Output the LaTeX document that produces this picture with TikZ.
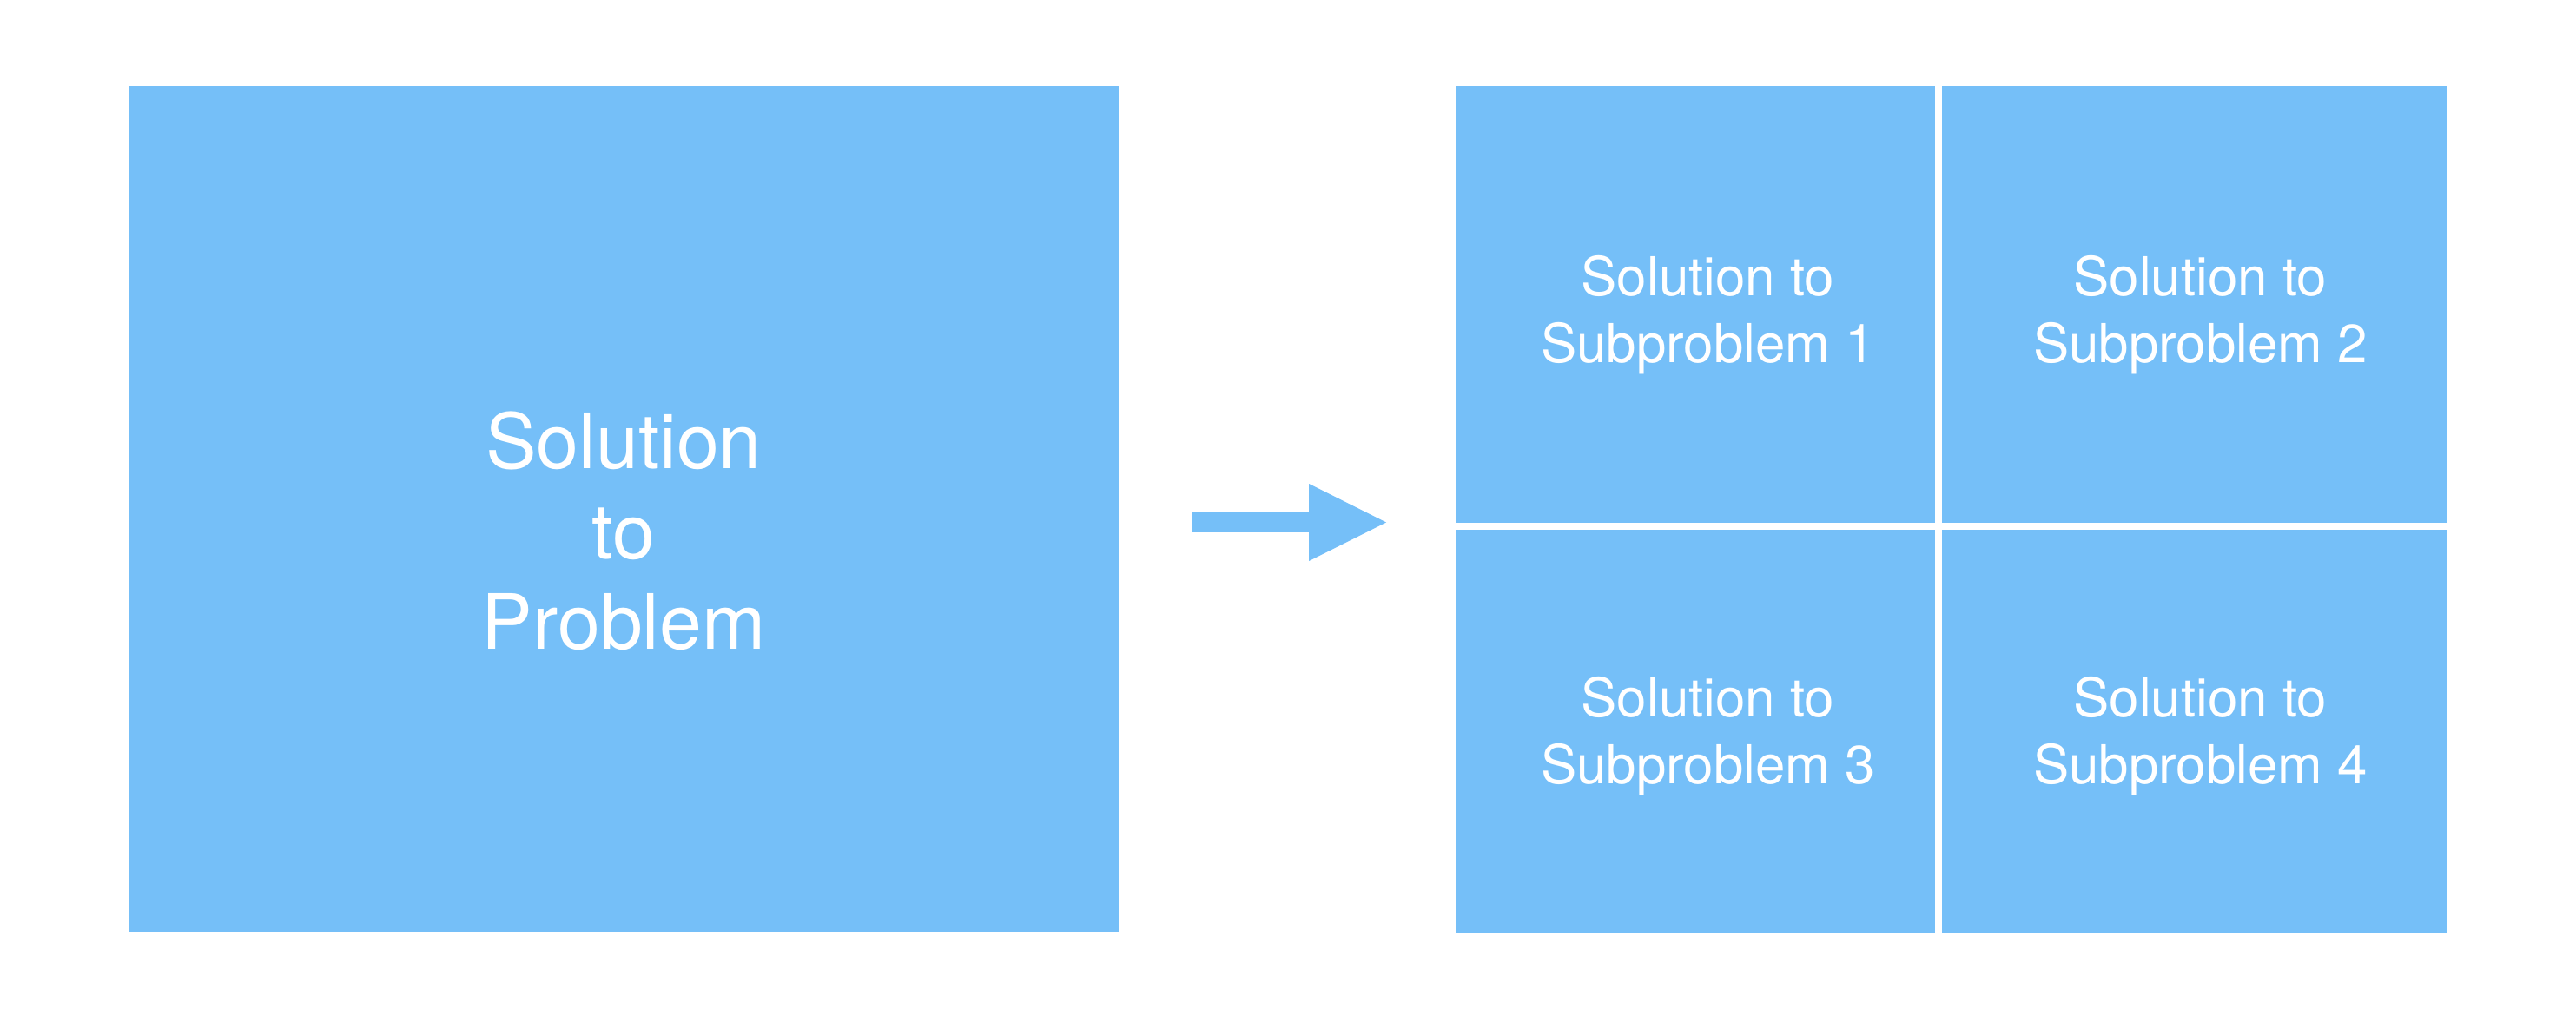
\documentclass[tikz,border=0pt]{standalone}
\usepackage{fontspec}
\setmainfont{TeX Gyre Heros}
\usepackage{tikz}
\usetikzlibrary{arrows.meta}
\usetikzlibrary{positioning}
\definecolor{solblue}{RGB}{117,191,248}

\begin{document}
\begin{tikzpicture}
      [whole/.style={rectangle,fill=solblue,inner sep=0pt,minimum width=11.4cm,minimum height=9.74cm},
       part/.style={rectangle,fill=solblue,inner sep=0pt},
       wholetext/.style={text=white,align=center,inner sep=0pt,yshift=-0.25cm,font=\fontsize{25}{29.6}\selectfont},
       parttext/.style={text=white,align=center,inner sep=0pt,font=\fontsize{17.6}{21.9}\selectfont},
       node distance=0.07cm]
      \useasboundingbox (0,0) rectangle (29.66,-11.78);
      % place nodes
      \node[whole,label={[wholetext]center:Solution\\to\\Problem}] (problem) at (7.18,-5.86) {};
      \node[part,minimum width=5.51cm,minimum height=5.03cm,label={[parttext,xshift=0.14cm,yshift=-0.12cm]center:Solution to\\Subproblem 1}] (sub1) at (19.525,-3.505) {};
      \node[part,minimum width=5.82cm,minimum height=5.03cm,label={[parttext,xshift=0.06cm,yshift=-0.12cm]center:Solution to\\Subproblem 2}] (sub2) [right=of sub1] {};
      \node[part,minimum width=5.51cm,minimum height=4.64cm,label={[parttext,xshift=0.14cm,yshift=-0.05cm]center:Solution to\\Subproblem 3}] (sub3) [below=of sub1] {};
      \node[part,minimum width=5.82cm,minimum height=4.64cm,label={[parttext,xshift=0.06cm,yshift=-0.05cm]center:Solution to\\Subproblem 4}] (sub4) [below=of sub2] {};
      % add arrow
      \coordinate (tail) at (13.73,-6.015);
      \coordinate (head) at (15.96,-6.015);
      \draw [-{Triangle[length=0.89cm,width=0.89cm,line width=0pt]},line width=0.23cm,solblue] (tail) -- (head);
    \end{tikzpicture}
\end{document}
